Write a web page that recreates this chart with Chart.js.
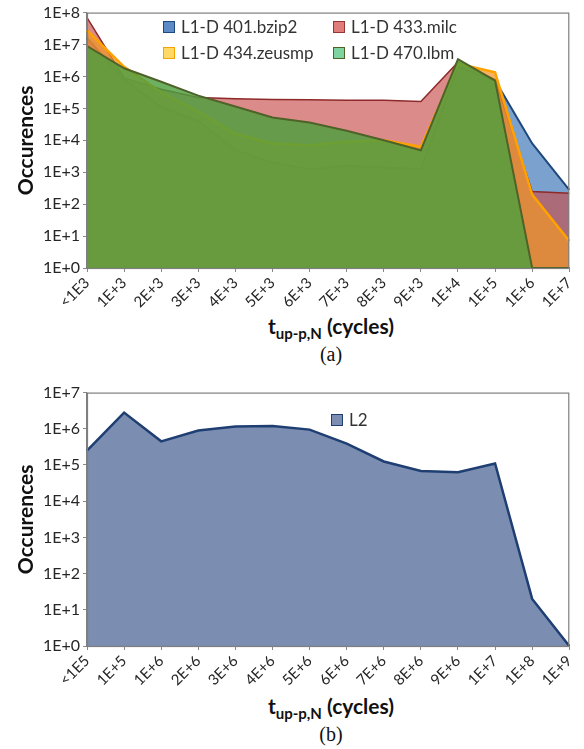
<!DOCTYPE html>
<html><head><meta charset="utf-8">
<script src="https://cdn.jsdelivr.net/npm/chart.js@4.4.0/dist/chart.umd.min.js"></script>
<style>
html,body{margin:0;padding:0;background:#fff;}
body{width:584px;height:749px;position:relative;overflow:hidden;font-family:Lato,"Open Sans",sans-serif;color:#222;}
.cw{position:absolute;left:0;width:584px;}
.lg{position:absolute;font:17px Lato,sans-serif;color:#333;white-space:nowrap;line-height:20px;}
.lg i{position:absolute;left:-18px;top:4px;width:10px;height:10px;border:1.5px solid #000;}
.xt{position:absolute;left:0;width:662px;text-align:center;font:bold 21px Lato,sans-serif;color:#111;white-space:nowrap;}
.xt sub{font-size:15px;vertical-align:-5px;}
.cap{position:absolute;left:0;width:662px;text-align:center;font:20px "Liberation Serif","Times New Roman",serif;color:#111;}
</style></head>
<body>
<div class="cw" style="top:0;height:312px"><canvas id="c1"></canvas></div>
<div class="cw" style="top:380px;height:310px"><canvas id="c2"></canvas></div>

<div class="lg" style="left:181px;top:17px"><i style="background:#5B8AC4;border-color:#1F497D"></i>L1-D 401.bzip2</div>
<div class="lg" style="left:351px;top:17px"><i style="background:#E07C7A;border-color:#943634"></i>L1-D 433.milc</div>
<div class="lg" style="left:181px;top:43px"><i style="background:#FFD966;border-color:#F5A300"></i>L1-D 434.zeusmp</div>
<div class="lg" style="left:351px;top:43px"><i style="background:#7DD4A0;border-color:#4F6228"></i>L1-D 470.lbm</div>
<div class="lg" style="left:349px;top:410px"><i style="background:#7B8DB0;border-color:#1F3F73"></i>L2</div>

<div class="xt" style="top:313px">t<sub>up-p,N</sub> (cycles)</div>
<div class="cap" style="top:343px">(a)</div>
<div class="xt" style="top:693px">t<sub>up-p,N</sub> (cycles)</div>
<div class="cap" style="top:723px">(b)</div>

<script>
// ---- data (top chart: L1-D) ----
const topCategories = ['<1E3','1E+3','2E+3','3E+3','4E+3','5E+3','6E+3','7E+3','8E+3','9E+3','1E+4','1E+5','1E+6','1E+7'];
const bzip2  = [1.6e7, 8e5, 1.1e5, 4e4, 5e3, 2e3, 1.25e3, 1.6e3, 1.4e3, 1.25e3, 2e6, 7.5e5, 8e3, 280];
const milc   = [7e7, 9e5, 4e5, 2.2e5, 2e5, 1.9e5, 1.85e5, 1.8e5, 1.8e5, 1.65e5, 2.8e6, 8e5, 250, 220];
const zeusmp = [2.8e7, 2e6, 3.2e5, 8e4, 1.6e4, 8e3, 7e3, 9e3, 1e4, 6.3e3, 2.5e6, 1.35e6, 200, 7];
const lbm    = [9e6, 1.8e6, 6.8e5, 2.5e5, 1.15e5, 5.2e4, 3.6e4, 2e4, 1e4, 4.9e3, 3.5e6, 7.4e5, 1, 1];
const topTickValues = [1,1e1,1e2,1e3,1e4,1e5,1e6,1e7,1e8];
const topTickLabels = ['1E+0','1E+1','1E+2','1E+3','1E+4','1E+5','1E+6','1E+7','1E+8'];

// ---- data (bottom chart: L2) ----
const botCategories = ['<1E5','1E+5','1E+6','2E+6','3E+6','4E+6','5E+6','6E+6','7E+6','8E+6','9E+6','1E+7','1E+8','1E+9'];
const l2 = [2.5e5, 2.8e6, 4.5e5, 9e5, 1.15e6, 1.2e6, 9.5e5, 3.9e5, 1.25e5, 6.8e4, 6.3e4, 1.1e5, 20, 1];
const botTickValues = [1,1e1,1e2,1e3,1e4,1e5,1e6,1e7];
const botTickLabels = ['1E+0','1E+1','1E+2','1E+3','1E+4','1E+5','1E+6','1E+7'];

const framePlugin = {
  id:'frame',
  afterDraw(chart){
    const a = chart.chartArea, ctx = chart.ctx;
    ctx.save();
    ctx.strokeStyle = '#7f7f7f'; ctx.lineWidth = 1.2;
    ctx.strokeRect(a.left+0.5, a.top+0.5, a.right-a.left-1, a.bottom-a.top);
    ctx.restore();
  }
};

function makeOptions(tickValues, tickLabels, yMax){
  return {
    responsive:true, maintainAspectRatio:false, animation:false,
    layout:{padding:{top:12,right:9,left:0,bottom:0}},
    plugins:{legend:{display:false}, tooltip:{enabled:false}},
    elements:{point:{radius:0}, line:{tension:0}},
    scales:{
      x:{
        type:'category', offset:false,
        grid:{display:true, drawOnChartArea:false, tickLength:4, color:'#8a8a8a'},
        border:{color:'#7f7f7f', width:1.2},
        ticks:{autoSkip:false, maxRotation:45, minRotation:45, padding:2,
               color:'#262626', font:{family:'Lato', size:15}},
        afterFit(s){ s.height = 44; }
      },
      y:{
        type:'logarithmic', min:1, max:yMax,
        grid:{display:true, drawOnChartArea:false, tickLength:4, color:'#8a8a8a'},
        border:{color:'#7f7f7f', width:1.2},
        afterBuildTicks(s){ s.ticks = tickValues.map(v=>({value:v})); },
        ticks:{padding:3, color:'#262626', font:{family:'Lato', size:16},
               callback:(v,i)=>tickLabels[i]},
        title:{display:true, text:'Occurences', color:'#111',
               font:{family:'Lato', size:21, weight:'bold'}, padding:{top:14,bottom:0}},
        afterFit(s){ s.width = 87; }
      }
    }
  };
}

new Chart(document.getElementById('c1'), {
  type:'line',
  data:{
    labels: topCategories,
    datasets:[
      {label:'L1-D 401.bzip2', data:bzip2, order:3, fill:'start',
       backgroundColor:'rgba(79,129,189,0.75)', borderColor:'#1F497D', borderWidth:2},
      {label:'L1-D 433.milc', data:milc, order:2, fill:'start',
       backgroundColor:'rgba(200,78,76,0.65)', borderColor:'#8E2B2A', borderWidth:1.5},
      {label:'L1-D 434.zeusmp', data:zeusmp, order:1, fill:'start',
       backgroundColor:'rgba(240,150,40,0.72)', borderColor:'#FFA200', borderWidth:2.5},
      {label:'L1-D 470.lbm', data:lbm, order:0, fill:'start',
       backgroundColor:'rgba(77,159,62,0.82)', borderColor:'#4F6228', borderWidth:2}
    ]
  },
  options: makeOptions(topTickValues, topTickLabels, 1e8),
  plugins:[framePlugin]
});

new Chart(document.getElementById('c2'), {
  type:'line',
  data:{
    labels: botCategories,
    datasets:[
      {label:'L2', data:l2, fill:'start',
       backgroundColor:'#7B8DB0', borderColor:'#1F3F73', borderWidth:2.5}
    ]
  },
  options: makeOptions(botTickValues, botTickLabels, 1e7),
  plugins:[framePlugin]
});
</script>
</body></html>
